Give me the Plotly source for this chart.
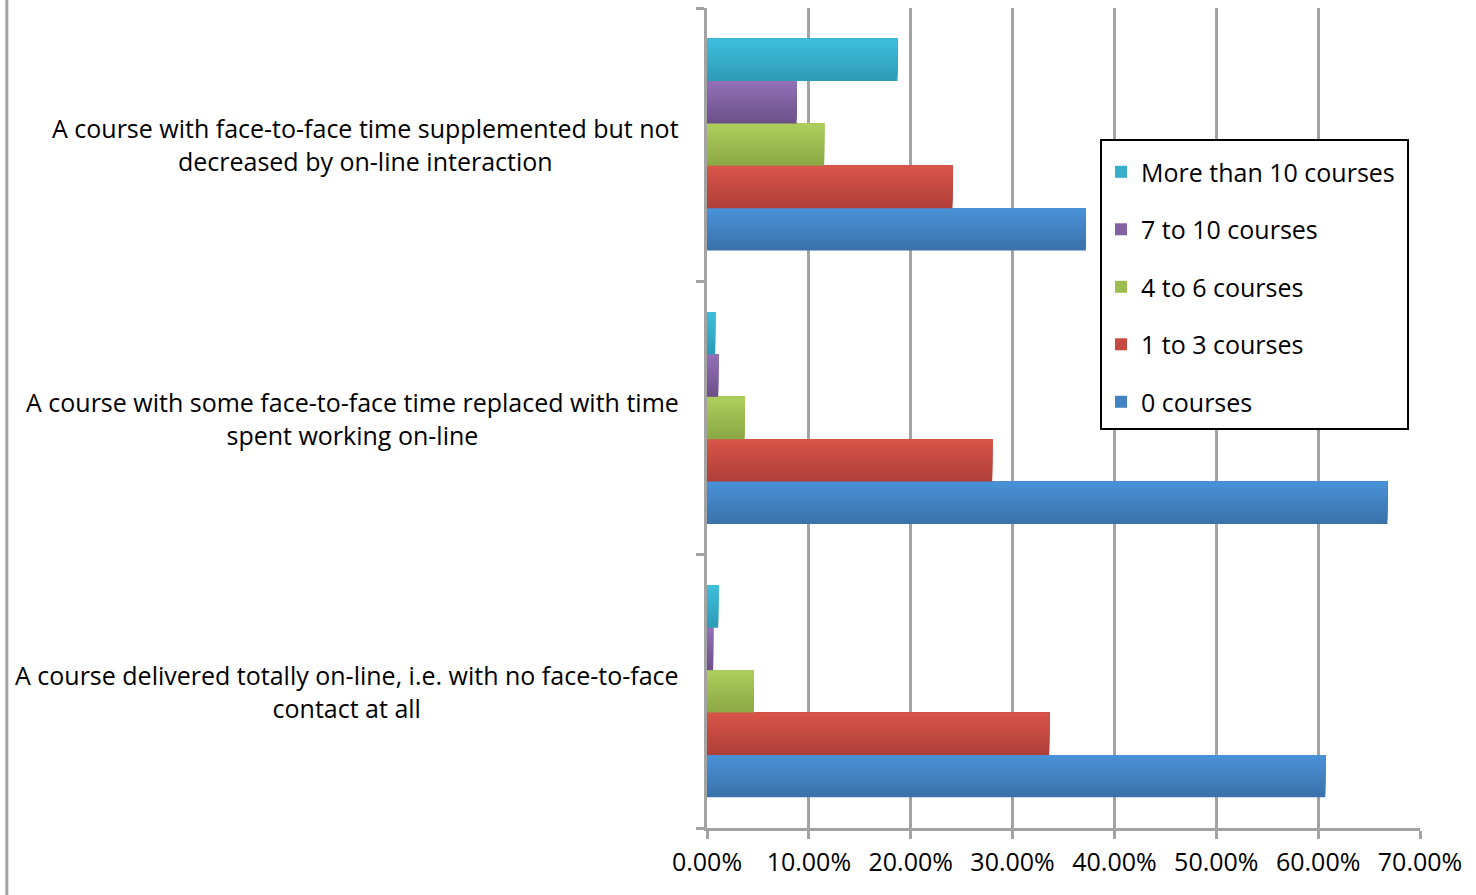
import plotly.graph_objects as go

# Course formats (bottom to top on the category axis)
categories = [
    "A course delivered totally on-line, i.e. with no face-to-face<br>contact at all",
    "A course with some face-to-face time replaced with time<br>spent working on-line",
    "A course with face-to-face time supplemented but not<br>decreased by on-line interaction",
]

series_names = ["0 courses", "1 to 3 courses", "4 to 6 courses", "7 to 10 courses", "More than 10 courses"]

# Share of respondents per course format, one list per series
zero_courses = [0.607, 0.668, 0.372]
one_to_three = [0.336, 0.280, 0.241]
four_to_six = [0.046, 0.037, 0.115]
seven_to_ten = [0.006, 0.011, 0.088]
more_than_ten = [0.011, 0.008, 0.187]

series_values = [zero_courses, one_to_three, four_to_six, seven_to_ten, more_than_ten]

# (top, bottom) shade of each series' vertical gradient
series_shades = [
    ("#4A92D8", "#3A71AA"),
    ("#DA5449", "#AE3F38"),
    ("#AECF5C", "#8AA745"),
    ("#9470B8", "#6B5089"),
    ("#3EBFDD", "#2E9AB5"),
]

x_ticks = [0, 0.1, 0.2, 0.3, 0.4, 0.5, 0.6, 0.7]

FONT = "Open Sans"
FS = 25
GRID = "#A3A3A3"

BARGAP = 0.225
STRIPS = 12


def hex_to_rgb(h):
    h = h.lstrip("#")
    return tuple(int(h[i:i + 2], 16) for i in (0, 2, 4))


def mix(c_bottom, c_top, t):
    a, b = hex_to_rgb(c_bottom), hex_to_rgb(c_top)
    r = [round(a[j] + (b[j] - a[j]) * t) for j in range(3)]
    return "rgb({},{},{})".format(*r)


fig = go.Figure()
n = len(series_names)
bar_w = (1 - BARGAP) / n
group_start = -(1 - BARGAP) / 2
strip_h = bar_w / STRIPS

for i, (name, vals, (top, bottom)) in enumerate(zip(series_names, series_values, series_shades)):
    bar_bottom = group_start + i * bar_w
    # stacked strips painted bottom-up give a dark-to-light vertical gradient
    for k in range(STRIPS):
        t = (k + 0.5) / STRIPS
        fig.add_trace(go.Bar(
            y=categories, x=vals, orientation="h",
            name=name, legendgroup=name, legendrank=n - i,
            showlegend=(k == STRIPS // 2),
            offset=bar_bottom + k * strip_h, width=bar_w - k * strip_h,
            marker=dict(color=mix(bottom, top, t), line=dict(width=0)),
            hoverinfo="skip" if k else None,
        ))

# Category labels: right-aligned block, centred lines
for cat in categories:
    fig.add_annotation(
        x=0, xref="paper", xshift=-26, xanchor="right",
        y=cat, yref="y", yanchor="middle",
        text=cat, showarrow=False, align="center",
        font=dict(family=FONT, size=FS, color="black"),
    )

# Outer chart border on the left
fig.add_shape(type="line", xref="paper", yref="paper",
              x0=-0.982, x1=-0.982, y0=-0.1, y1=1.02,
              line=dict(color=GRID, width=3))

# Legend frame
fig.add_shape(type="rect", xref="paper", yref="paper",
              x0=0.5526, x1=0.9832, y0=0.4866, y1=0.839,
              line=dict(color="black", width=2), fillcolor="white",
              layer="above")

fig.update_layout(
    width=1476, height=895,
    margin=dict(l=707, r=56, t=8, b=67),
    paper_bgcolor="white", plot_bgcolor="white",
    barmode="overlay",
    font=dict(family=FONT, size=FS, color="black"),
    legend=dict(
        x=0.5526, y=0.828, xanchor="left", yanchor="top",
        bgcolor="rgba(0,0,0,0)", borderwidth=0,
        traceorder="grouped", tracegroupgap=22,
        font=dict(family=FONT, size=FS, color="black"),
        itemwidth=30,
    ),
    xaxis=dict(
        range=[0, 0.7], tickvals=x_ticks, tickformat=".2%",
        showgrid=True, gridcolor=GRID, gridwidth=3,
        showline=True, linecolor=GRID, linewidth=3,
        ticks="outside", ticklen=8, tickwidth=3, tickcolor=GRID,
        ticklabelstandoff=2,
        zeroline=False, fixedrange=True,
        tickfont=dict(family=FONT, size=FS, color="black"),
    ),
    yaxis=dict(
        type="category", categoryorder="array", categoryarray=categories,
        range=[-0.5, 2.5],
        showticklabels=False, tickson="boundaries",
        ticks="outside", ticklen=8, tickwidth=3, tickcolor=GRID,
        showline=True, linecolor=GRID, linewidth=3,
        showgrid=False, zeroline=False,
    ),
)

fig.write_html("out.html")
